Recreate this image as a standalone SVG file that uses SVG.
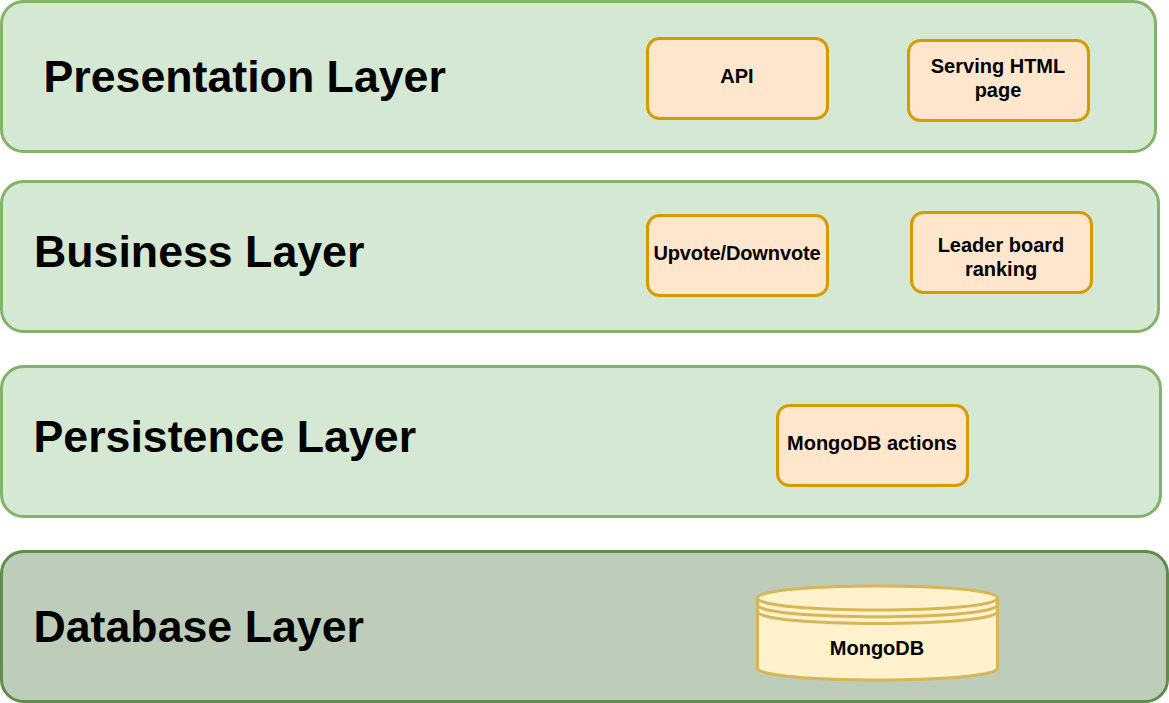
<svg xmlns="http://www.w3.org/2000/svg" width="1169" height="703" viewBox="0 0 1169 703">
<style>
text{font-family:"Liberation Sans",Arial,sans-serif;font-weight:bold;fill:#000}
.layer{fill:#d5e8d4;stroke:#82b366;stroke-width:3}
.db{fill:#bdcdba;stroke:#5f8c4a;stroke-width:3}
.box{fill:#ffe6cc;stroke:#d79b00;stroke-width:3}
.cyl{fill:#fff2cc;stroke:#d6b656;stroke-width:3}
.t{font-size:44.7px}
.l{font-size:20px;text-anchor:middle}
</style>
<rect width="1169" height="703" fill="#fff"/>
<g id="presentation"><rect class="layer" x="1.5" y="1.5" width="1154" height="150" rx="22"/><text class="t" x="43.5" y="92">Presentation Layer</text></g>
<g id="business"><rect class="layer" x="1.5" y="181.5" width="1157" height="150" rx="22"/><text class="t" x="34" y="267">Business Layer</text></g>
<g id="persistence"><rect class="layer" x="1.5" y="366.5" width="1159" height="150" rx="22"/><text class="t" x="33.5" y="452">Persistence Layer</text></g>
<g id="database"><rect class="db" x="1.5" y="551.5" width="1166" height="150" rx="22"/><text class="t" x="33.5" y="642">Database Layer</text></g>
<g id="api"><rect class="box" x="647.5" y="38.5" width="180" height="80" rx="12"/><text class="l" x="737" y="83">API</text></g>
<g id="html"><rect class="box" x="908.5" y="40.5" width="180" height="80" rx="12"/><text class="l" x="998" y="73">Serving HTML</text><text class="l" x="998" y="97">page</text></g>
<g id="vote"><rect class="box" x="647.5" y="215.5" width="180" height="80" rx="12"/><text class="l" x="737" y="260" letter-spacing="-0.12">Upvote/Downvote</text></g>
<g id="leader"><rect class="box" x="911.5" y="212.5" width="180" height="80" rx="12"/><text class="l" x="1001" y="252">Leader board</text><text class="l" x="1001" y="276">ranking</text></g>
<g id="actions"><rect class="box" x="777.5" y="405.5" width="190" height="80" rx="12"/><text class="l" x="872" y="450">MongoDB actions</text></g>
<g id="mongodb"><path class="cyl" d="M757.5 598C757.5 582 997.5 582 997.5 598V668C997.5 684 757.5 684 757.5 668Z"/><path fill="none" stroke="#d6b656" stroke-width="3" d="M757.5 598C757.5 614 997.5 614 997.5 598M757.5 604.8C757.5 620.8 997.5 620.8 997.5 604.8M757.5 611.5C757.5 627.5 997.5 627.5 997.5 611.5"/><text class="l" x="877" y="655">MongoDB</text></g>
<g id="connectors"></g>
</svg>
